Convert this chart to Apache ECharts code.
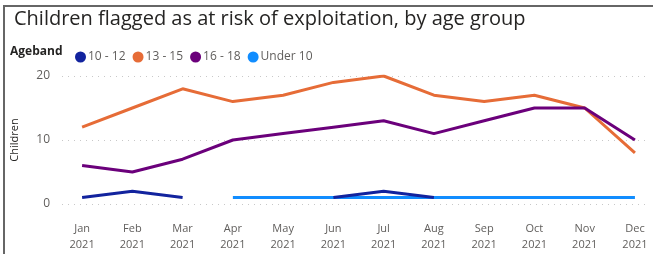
<!DOCTYPE html>
<html>
<head>
<meta charset="utf-8">
<script src="https://cdn.jsdelivr.net/npm/echarts@6/dist/echarts.min.js"></script>
<style>
  html, body { margin: 0; padding: 0; background: #fff; }
  #frame { position: absolute; left: 3px; top: 5px; width: 650px; height: 249px;
           border-left: 2px solid #666; border-top: 2px solid #666; box-sizing: border-box; }
  #main { position: absolute; left: 0; top: 0; width: 653px; height: 254px; }
</style>
</head>
<body>
<div id="frame"></div>
<div id="main"></div>
<script>
// values
var months = ['Jan', 'Feb', 'Mar', 'Apr', 'May', 'Jun', 'Jul', 'Aug', 'Sep', 'Oct', 'Nov', 'Dec'];
var age10to12 = [1, 2, 1, null, null, 1, 2, 1, null, null, null, null];
var age13to15 = [12, 15, 18, 16, 17, 19, 20, 17, 16, 17, 15, 8];
var age16to18 = [6, 5, 7, 10, 11, 12, 13, 11, 13, 15, 15, 10];
var under10 = [null, null, null, 1, 1, 1, 1, 1, 1, 1, 1, 1];
var yTicks = [0, 10, 20];

function pairs(arr) {
    return arr.map(function (v, i) { return [i, v]; });
}

var font = '"Open Sans", "Noto Sans", sans-serif';
var myChart = echarts.init(document.getElementById('main'));

function line(name, arr, color, z) {
    return {
        name: name,
        type: 'line',
        data: pairs(arr),
        showSymbol: false,
        symbol: 'circle',
        connectNulls: false,
        z: z,
        lineStyle: { width: 3, color: color },
        itemStyle: { color: color }
    };
}

myChart.setOption({
    animation: false,
    title: {
        text: 'Children flagged as at risk of exploitation, by age group',
        left: 9,
        top: 4,
        textStyle: { fontFamily: font, fontSize: 20, fontWeight: 'normal', color: '#252423' }
    },
    graphic: [{
        type: 'text',
        left: 10,
        top: 46,
        style: { text: 'Ageband', font: 'bold 12px ' + font, fill: '#252423' }
    }],
    legend: {
        left: 70,
        top: 46,
        icon: 'circle',
        itemWidth: 11,
        itemHeight: 11,
        itemGap: 7,
        data: ['10 - 12', '13 - 15', '16 - 18', 'Under 10'],
        textStyle: { fontFamily: font, fontSize: 12, color: '#605E5C', padding: [0, 0, 0, -3] }
    },
    grid: { left: 62, right: 5, top: 76, bottom: 50 },
    xAxis: {
        type: 'value',
        min: -0.4,
        max: 11.26,
        axisLine: { show: false },
        axisTick: { show: false },
        splitLine: { show: false },
        axisLabel: {
            customValues: months.map(function (m, i) { return i; }),
            formatter: function (v) { return months[v] + '\n2021'; },
            fontFamily: font,
            fontSize: 11,
            lineHeight: 16,
            color: '#605E5C',
            margin: 17
        }
    },
    yAxis: {
        type: 'value',
        min: 0,
        max: 20,
        interval: 10,
        name: 'Children',
        nameLocation: 'middle',
        nameGap: 42,
        nameTextStyle: { fontFamily: font, fontSize: 11, color: '#252423' },
        axisLine: { show: false },
        axisTick: { show: false },
        axisLabel: {
            customValues: yTicks,
            fontFamily: font,
            fontSize: 12,
            color: '#605E5C',
            margin: 12
        },
        splitLine: { lineStyle: { type: [1, 5], color: '#c8c8c8', width: 1 } }
    },
    series: [
        line('Under 10', under10, '#118DFF', 2),
        line('10 - 12', age10to12, '#12239E', 3),
        line('13 - 15', age13to15, '#E66C37', 3),
        line('16 - 18', age16to18, '#6B007B', 3)
    ]
});
</script>
</body>
</html>
